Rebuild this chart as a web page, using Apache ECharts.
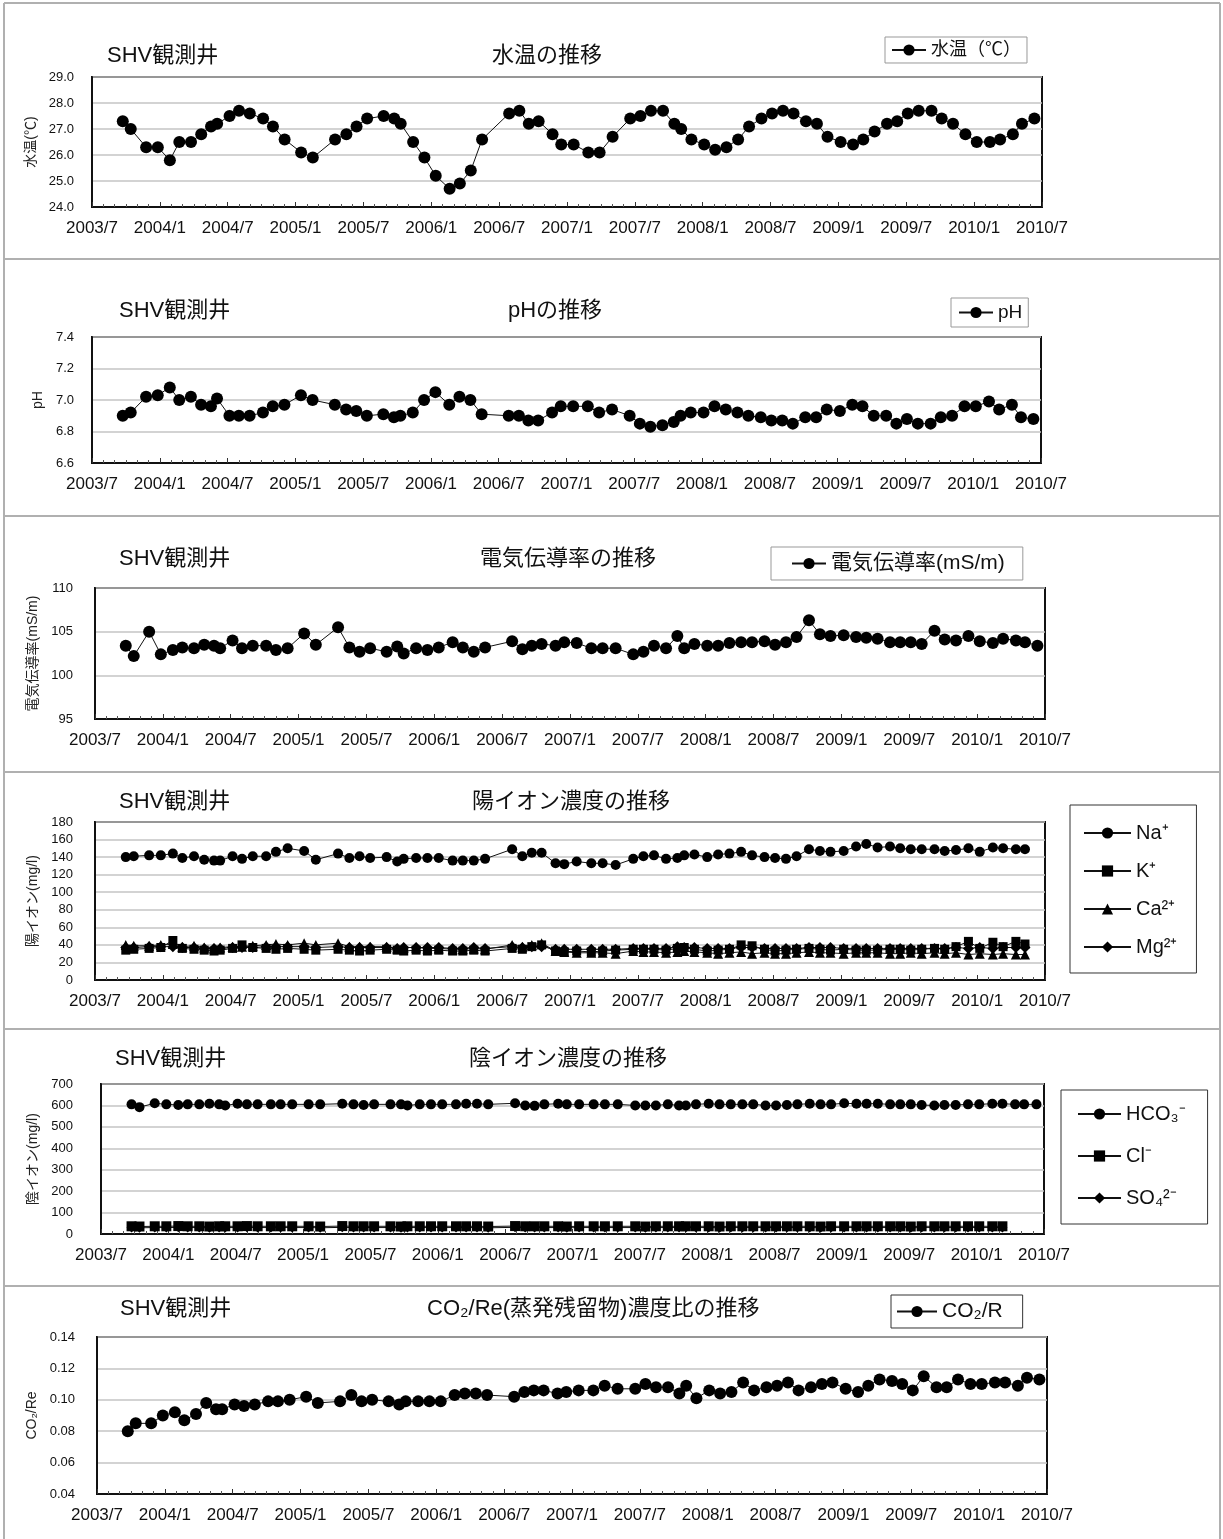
<!DOCTYPE html>
<html><head><meta charset="utf-8">
<script src="https://cdn.jsdelivr.net/npm/echarts@6/dist/echarts.min.js"></script>
<style>html,body{margin:0;padding:0;background:#fff}#c{width:1223px;height:1539px}</style>
</head><body><div id="c"></div>
<script>
const xTickLabels = ['2003/7','2004/1','2004/7','2005/1','2005/7','2006/1','2006/7','2007/1','2007/7','2008/1','2008/7','2009/1','2009/7','2010/1','2010/7'];
const sampleDates = [
'2003/9/23','2003/10/14','2003/11/25','2003/12/26','2004/1/28','2004/2/23','2004/3/24','2004/4/21','2004/5/17','2004/6/3',
'2004/7/6','2004/8/1','2004/8/30','2004/10/5','2004/11/1','2004/12/2','2005/1/16','2005/2/17','2005/4/16','2005/5/16',
'2005/6/13','2005/7/11','2005/8/25','2005/9/23','2005/10/10','2005/11/13','2005/12/13','2006/1/13','2006/2/20','2006/3/17',
'2006/4/16','2006/5/16','2006/7/28','2006/8/25','2006/9/20','2006/10/16','2006/11/23','2006/12/16','2007/1/19','2007/2/28',
'2007/3/28','2007/5/2','2007/6/19','2007/7/16','2007/8/14','2007/9/16','2007/10/16','2007/11/4','2007/12/1','2008/1/5',
'2008/2/4','2008/3/4','2008/4/5','2008/5/4','2008/6/7','2008/7/5','2008/8/4','2008/9/2','2008/10/5','2008/11/4',
'2008/12/2','2009/1/7','2009/2/10','2009/3/7','2009/4/7','2009/5/10','2009/6/7','2009/7/5','2009/8/4','2009/9/8',
'2009/10/5','2009/11/5','2009/12/8','2010/1/8','2010/2/13','2010/3/10','2010/4/14','2010/5/8','2010/6/11'];
const waterTemp = [27.3,27.0,26.3,26.3,25.8,26.5,26.5,26.8,27.1,27.2,27.5,27.7,27.6,27.4,27.1,26.6,26.1,25.9,26.6,26.8,
27.1,27.4,27.5,27.4,27.2,26.5,25.9,25.2,24.7,24.9,25.4,26.6,27.6,27.7,27.2,27.3,26.8,26.4,26.4,26.1,26.1,26.7,
27.4,27.5,27.7,27.7,27.2,27.0,26.6,26.4,26.2,26.3,26.6,27.1,27.4,27.6,27.7,27.6,27.3,27.2,26.7,26.5,26.4,26.6,26.9,27.2,
27.3,27.6,27.7,27.7,27.4,27.2,26.8,26.5,26.5,26.6,26.8,27.2,27.4];
const phValues = [6.90,6.92,7.02,7.03,7.08,7.00,7.02,6.97,6.96,7.01,6.90,6.90,6.90,6.92,6.96,6.97,7.03,7.00,6.97,6.94,
6.93,6.90,6.91,6.89,6.90,6.92,7.00,7.05,6.97,7.02,7.00,6.91,6.90,6.90,6.87,6.87,6.92,6.96,6.96,6.96,6.92,6.94,
6.90,6.85,6.83,6.84,6.86,6.90,6.92,6.92,6.96,6.94,6.92,6.90,6.89,6.87,6.87,6.85,6.89,6.89,6.94,6.93,6.97,6.96,6.90,6.90,
6.85,6.88,6.85,6.85,6.89,6.90,6.96,6.96,6.99,6.94,6.97,6.89,6.88];
const conductivity = [103.4,102.2,105.0,102.4,102.9,103.2,103.1,103.5,103.4,103.1,104.0,103.1,103.4,103.4,102.9,103.1,104.8,103.5,105.5,103.2,
102.7,103.1,102.7,103.3,102.5,103.1,102.9,103.2,103.8,103.2,102.7,103.2,103.9,103.0,103.4,103.6,103.4,103.8,103.7,103.1,103.1,103.1,
102.4,102.7,103.4,103.1,104.5,103.1,103.6,103.4,103.4,103.7,103.8,103.8,103.9,103.5,103.8,104.4,106.3,104.7,104.5,104.6,104.4,104.3,104.2,103.8,
103.8,103.8,103.6,105.1,104.1,104.0,104.5,103.9,103.7,104.2,104.0,103.8,103.4];
const sodium = [140,141,142,142,144,139,141,137,136,136,141,138,141,141,146,150,147,137,144,139,
141,139,140,135,138,139,139,139,136,136,136,138,149,141,145,145,133,132,135,133,133,131,
138,141,142,138,139,142,143,140,143,144,146,142,140,139,138,141,149,147,146,147,152,155,151,152,
150,149,149,149,147,148,150,146,151,150,149,149];
const potassium = [34,35,36,37,45,36,35,34,33,34,36,40,37,36,35,36,35,34,35,34,
33,34,35,34,33,34,33,34,33,33,34,33,36,35,38,40,33,32,33,32,33,34,
35,35,35,34,36,37,35,33,34,35,40,39,35,33,34,35,36,35,34,35,34,34,34,35,
35,34,35,36,35,38,44,36,43,38,44,41];
const calcium = [40,39,39,40,41,38,39,37,36,37,38,38,39,40,41,40,42,40,42,38,
38,38,38,36,37,37,36,36,35,35,36,35,40,38,40,42,33,32,31,31,31,30,
33,32,32,31,32,33,32,31,30,31,32,30,31,30,30,31,32,31,31,30,31,31,31,30,
30,31,30,31,30,31,29,30,29,30,29,29];
const magnesium = [37,37,38,38,38,37,37,36,36,36,37,37,37,38,38,38,38,37,38,37,
37,37,37,36,37,37,37,37,36,36,37,36,38,37,38,38,35,35,35,35,35,35,
36,36,36,36,38,37,37,36,36,36,37,37,36,36,36,36,37,37,37,36,36,36,36,36,
36,36,36,36,36,37,36,37,36,37,37,37];
const bicarbonate = [605,592,610,605,602,605,605,608,605,600,608,605,605,605,605,605,605,605,608,605,
602,605,605,605,600,605,605,605,605,608,608,605,610,600,598,605,608,605,605,605,605,605,
600,600,600,605,600,600,605,608,605,605,605,605,600,600,602,605,608,605,605,610,608,608,608,605,
605,605,602,600,602,602,605,605,608,608,605,605,605];
const chloride = [36,35,36,36,37,36,36,35,36,36,36,37,36,36,36,36,36,35,37,36,
36,36,36,35,36,36,36,36,36,36,36,35,37,36,36,36,36,35,36,36,36,36,
36,35,36,36,36,36,36,36,35,36,36,36,36,36,36,36,36,35,36,36,36,36,36,36,
36,35,36,36,36,36,36,36,36,36];
const sulfate = [30,29,30,30,31,30,30,29,30,30,30,31,30,30,30,30,30,29,31,30,
30,30,30,29,30,30,30,30,30,30,30,29,31,30,30,30,30,29,30,30,30,30,
30,29,30,30,30,30,30,30,29,30,30,30,30,30,30,30,30,29,30,30,30,30,30,30,
30,29,30,30,30,30,30,30,30,30];
const co2Ratio = [0.080,0.085,0.085,0.090,0.092,0.087,0.091,0.098,0.094,0.094,0.097,0.096,0.097,0.099,0.099,0.100,0.102,0.098,0.099,0.103,
0.099,0.100,0.099,0.097,0.099,0.099,0.099,0.099,0.103,0.104,0.104,0.103,0.102,0.105,0.106,0.106,0.104,0.105,0.106,0.106,0.109,0.107,
0.107,0.110,0.108,0.108,0.104,0.109,0.101,0.106,0.104,0.105,0.111,0.106,0.108,0.109,0.111,0.106,0.108,0.110,0.111,0.107,0.105,0.109,0.113,0.112,
0.110,0.106,0.115,0.108,0.108,0.113,0.110,0.110,0.111,0.111,0.109,0.114,0.113];

function toMonth(s){const p=s.split('/').map(Number);return (p[0]-2003)*12+(p[1]-7)+(p[2]-1)/30.5;}
const monthIdx = sampleDates.map(toMonth);
function pairs(vals){return vals.map((v,i)=>[monthIdx[i],v]);}

const FONT = "'Liberation Sans','Noto Sans CJK JP',sans-serif";
const grids = [
  {left:92, top:77, width:950, height:130},
  {left:92, top:337, width:949, height:126},
  {left:95, top:588, width:950, height:131},
  {left:95, top:822, width:950, height:158},
  {left:101, top:1084, width:943, height:150},
  {left:97, top:1337, width:950, height:157}
];
const yCfg = [
  {min:24, max:29, interval:1, dec:1, name:'水温(℃)', gap:48, margin:18},
  {min:6.6, max:7.4, interval:0.2, dec:1, name:'pH', gap:42, margin:18},
  {min:95, max:110, interval:5, dec:0, name:'電気伝導率(mS/m)', gap:50, margin:22},
  {min:0, max:180, interval:20, dec:0, name:'陽イオン(mg/l)', gap:46, margin:22},
  {min:0, max:700, interval:100, dec:0, name:'陰イオン(mg/l)', gap:50, margin:28},
  {min:0.04, max:0.14, interval:0.02, dec:2, name:'CO₂/Re', gap:55, margin:22}
];

const xAxes = grids.map((g,i)=>({
  type:'value', gridIndex:i, min:0, max:84, interval:6,
  axisLine:{show:true, lineStyle:{color:'#111', width:2}},
  axisTick:{show:true, inside:true, length:5, lineStyle:{color:'#333'}},
  minorTick:{show:true, splitNumber:6, length:3, lineStyle:{color:'#555'}},
  splitLine:{show:false},
  axisLabel:{margin:13, fontSize:17, color:'#111', fontFamily:FONT,
    formatter:v=>xTickLabels[Math.round(v/6)]||''}
}));
const yAxes = yCfg.map((c,i)=>({
  type:'value', gridIndex:i, min:c.min, max:c.max, interval:c.interval,
  name:c.name, nameLocation:'middle', nameGap:c.gap, nameRotate:90,
  nameTextStyle:{fontSize:14, color:'#222', fontFamily:FONT},
  axisLine:{show:true, lineStyle:{color:'#111', width:2}},
  axisTick:{show:false},
  splitLine:{show:true, lineStyle:{color:'#c4c4c4', width:1.5}},
  axisLabel:{margin:c.margin, fontSize:13, color:'#111', fontFamily:FONT,
    formatter:v=>v.toFixed(c.dec)}
}));

function line(name, gi, vals, symbol, size){
  return {name, type:'line', xAxisIndex:gi, yAxisIndex:gi, data:pairs(vals),
    symbol, symbolSize:size, showAllSymbol:true,
    lineStyle:{color:'#111', width:1}, itemStyle:{color:'#000'}, emphasis:{disabled:true}};
}
const series = [
  line('水温（℃）',0,waterTemp,'circle',12),
  line('pH',1,phValues,'circle',12),
  line('電気伝導率(mS/m)',2,conductivity,'circle',12),
  line('Na⁺',3,sodium,'circle',10),
  line('K⁺',3,potassium,'rect',9),
  line('Ca²⁺',3,calcium,'triangle',10),
  line('Mg²⁺',3,magnesium,'diamond',11),
  line('HCO₃⁻',4,bicarbonate,'circle',10),
  line('Cl⁻',4,chloride,'rect',10),
  line('SO₄²⁻',4,sulfate,'diamond',10),
  line('CO₂/R',5,co2Ratio,'circle',12)
];

const tStyle = {fontSize:22, fontWeight:'normal', color:'#111', fontFamily:FONT};
const titles = [
  {text:'SHV観測井', left:107, top:45}, {text:'水温の推移', left:492, top:45},
  {text:'SHV観測井', left:119, top:300}, {text:'pHの推移', left:508, top:300},
  {text:'SHV観測井', left:119, top:548}, {text:'電気伝導率の推移', left:480, top:548},
  {text:'SHV観測井', left:119, top:791}, {text:'陽イオン濃度の推移', left:472, top:791},
  {text:'SHV観測井', left:115, top:1048}, {text:'陰イオン濃度の推移', left:469, top:1048},
  {text:'SHV観測井', left:120, top:1298}, {text:'CO₂/Re(蒸発残留物)濃度比の推移', left:427, top:1298}
].map(t=>Object.assign({padding:0, textStyle:tStyle}, t));

function lg(o){return Object.assign({itemHeight:14, selectedMode:false, borderWidth:1,
  textStyle:{fontSize:19, color:'#111', fontFamily:FONT}}, o);}
const legends = [
  lg({data:['水温（℃）'], left:885, top:37, padding:[4,6,4,6], itemWidth:34, borderColor:'#999',
      textStyle:{fontSize:18, color:'#111', fontFamily:FONT}}),
  lg({data:['pH'], left:951, top:298, padding:[5,6,5,7], itemWidth:34, borderColor:'#999'}),
  lg({data:['電気伝導率(mS/m)'], left:771, top:547, padding:[6,18,6,20], itemWidth:34, borderColor:'#999',
      textStyle:{fontSize:21, color:'#111', fontFamily:FONT}}),
  lg({data:['Na⁺','K⁺','Ca²⁺','Mg²⁺'], orient:'vertical', left:1070, top:805, padding:[18,19,16,13],
      itemWidth:47, itemGap:18, borderColor:'#333', textStyle:{fontSize:20, color:'#111', fontFamily:FONT}}),
  lg({data:['HCO₃⁻','Cl⁻','SO₄²⁻'], orient:'vertical', left:1061, top:1090, padding:[14,22,16,16],
      itemWidth:43, itemGap:22, borderColor:'#333', textStyle:{fontSize:20, color:'#111', fontFamily:FONT}}),
  lg({data:['CO₂/R'], left:891, top:1295, padding:[6,20,6,5], itemWidth:40, borderColor:'#333',
      textStyle:{fontSize:21, color:'#111', fontFamily:FONT}})
];

const frameStyle = {stroke:'#b0b0b0', lineWidth:2};
const frameY = [3,259,516,772,1029,1286];
const graphic = frameY.map(y=>({type:'line', shape:{x1:4,y1:y,x2:1220,y2:y}, style:frameStyle}))
  .concat([{type:'line', shape:{x1:4,y1:3,x2:4,y2:1539}, style:frameStyle},
           {type:'line', shape:{x1:1220,y1:3,x2:1220,y2:1539}, style:frameStyle}]);

const chart = echarts.init(document.getElementById('c'), null, {renderer:'canvas'});
chart.setOption({
  animation:false, backgroundColor:'#fff',
  title:titles, legend:legends,
  grid:grids.map(g=>Object.assign({show:true, borderColor:'#111', borderWidth:2, containLabel:false}, g)),
  xAxis:xAxes, yAxis:yAxes, series, graphic
});
</script></body></html>
